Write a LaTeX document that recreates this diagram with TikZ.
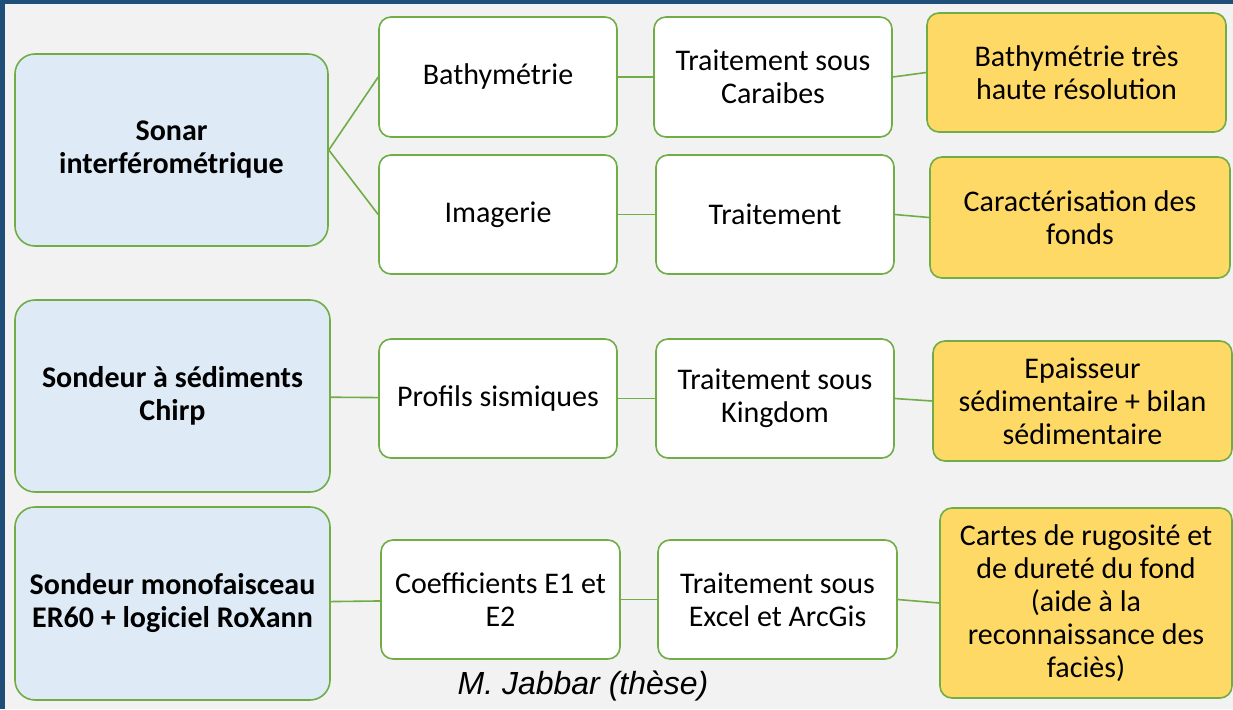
\documentclass[tikz,border=0pt]{standalone}
\usepackage{fontspec}
\setmainfont{Carlito}
\newfontfamily\sigfont{Liberation Sans}
\definecolor{slidebg}{HTML}{F2F2F2}
\definecolor{slideblue}{HTML}{1F4E79}
\definecolor{linkgreen}{HTML}{70AD47}
\definecolor{srcblue}{HTML}{DEEBF7}
\definecolor{resyellow}{HTML}{FFD966}
\tikzset{%
	box/.style    = {draw=linkgreen, line width=1.6pt, rectangle, rounded corners=12pt, align=center, inner sep=0pt, font=\fontsize{30}{33}\selectfont},
	sensor/.style = {box, fill=srcblue, rounded corners=20pt, font=\fontsize{30}{33}\selectfont\bfseries}, % Instrument
	data/.style   = {box, fill=white}, % Donnee / traitement
	result/.style = {box, fill=resyellow}, % Produit
	link/.style   = {draw=linkgreen, line width=1.6pt},
}

\begin{document}
\begin{tikzpicture}[x=1pt,y=-1pt]
	\fill[slideblue] (0,0) rectangle (1233,709);
	\fill[slidebg] (5,4) rectangle (1233,709);
	\useasboundingbox (0,0) rectangle (1233,709);

	% instruments
	\node [sensor,minimum width=313pt,minimum height=192pt] (sonar) at (171.5,150) {Sonar\\interférométrique};
	\node [sensor,minimum width=315pt,minimum height=192pt] (chirp) at (172.5,396) {Sondeur à sédiments\\Chirp};
	\node [sensor,minimum width=315pt,minimum height=193pt] (mono) at (172.5,603.5) {Sondeur monofaisceau\\ER60 + logiciel RoXann};

	% donnees
	\node [data,minimum width=238pt,minimum height=120pt] (bathy) at (498,77) {Bathymétrie};
	\node [data,minimum width=238pt,minimum height=119pt] (imag) at (498,214.5) {Imagerie};
	\node [data,minimum width=238pt,minimum height=119pt] (prof) at (498,398.5) {Profils sismiques};
	\node [data,minimum width=239pt,minimum height=119pt] (coef) at (500.5,599.5) {Coefficients E1 et\\E2};

	% traitements
	\node [data,minimum width=238pt,minimum height=120pt] (carai) at (773,77) {Traitement sous\\Caraibes};
	\node [data,minimum width=238pt,minimum height=119pt] (trait) at (775,214.5) {Traitement};
	\node [data,minimum width=238pt,minimum height=119pt] (kingd) at (775,398.5) {Traitement sous\\Kingdom};
	\node [data,minimum width=239pt,minimum height=119pt] (excel) at (777.5,599.5) {Traitement sous\\Excel et ArcGis};

	% produits
	\node [result,minimum width=299pt,minimum height=119pt] (bthr) at (1076.5,72.5) {Bathymétrie très\\haute résolution};
	\node [result,minimum width=300pt,minimum height=121pt] (fonds) at (1080,217.5) {Caractérisation des\\fonds};
	\node [result,minimum width=299pt,minimum height=120pt] (epais) at (1082.5,401) {Epaisseur\\sédimentaire + bilan\\sédimentaire};
	\node [result,minimum width=292pt,minimum height=190pt] (cartes) at (1086,603) {Cartes de rugosité et\\de dureté du fond\\(aide à la\\reconnaissance des\\faciès)};

	\node [font=\sigfont\itshape\fontsize{32}{38}\selectfont] (sig) at (583,686) {M. Jabbar (thèse)};

	\draw[link] (sonar.east) -- (bathy.west);
	\draw[link] (sonar.east) -- (imag.west);
	\draw[link] (chirp) -- (prof);
	\draw[link] (mono) -- (coef);
	\draw[link] (bathy) -- (carai);
	\draw[link] (imag) -- (trait);
	\draw[link] (prof) -- (kingd);
	\draw[link] (coef) -- (excel);
	\draw[link] (carai.east) -- (bthr.west);
	\draw[link] (trait.east) -- (fonds.west);
	\draw[link] (kingd.east) -- (epais.west);
	\draw[link] (excel.east) -- (cartes.west);
\end{tikzpicture}
\end{document}
